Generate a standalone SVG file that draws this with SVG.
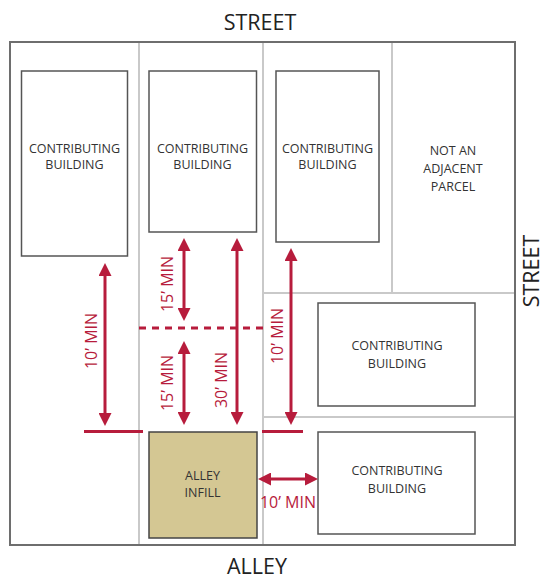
<svg xmlns="http://www.w3.org/2000/svg" width="544" height="580" viewBox="0 0 544 580">
<style>
.lot{stroke:#c9c9c9;stroke-width:2;fill:none}
.bldg{fill:#fff;stroke:#555;stroke-width:1.5}
.lbl{font-family:"Open Sans","Liberation Sans",sans-serif;font-size:12.5px;fill:#333;text-anchor:middle}
.big{font-family:"Open Sans","Liberation Sans",sans-serif;font-size:21.5px;fill:#222;text-anchor:middle}
.dim{stroke:#b71c3c;stroke-width:3;fill:none}
.dimt{font-family:"Open Sans","Liberation Sans",sans-serif;font-size:16px;fill:#b71c3c;text-anchor:middle}
</style>
<defs>
<marker id="ah" markerUnits="userSpaceOnUse" markerWidth="13" markerHeight="13" refX="0" refY="6.5" orient="auto-start-reverse" viewBox="0 0 13 13">
<path d="M0,0 L13,6.5 L0,13 z" fill="#b71c3c"/>
</marker>
</defs>
<rect width="544" height="580" fill="#fff"/>
<g id="lots">
<line class="lot" x1="139" y1="42" x2="139" y2="545"/>
<line class="lot" x1="263" y1="42" x2="263" y2="545"/>
<line class="lot" x1="392" y1="42" x2="392" y2="293"/>
<line class="lot" x1="263" y1="293" x2="515" y2="293"/>
<line class="lot" x1="263" y1="417" x2="515" y2="417"/>
<rect x="10" y="42" width="505" height="503" fill="none" stroke="#6e6e6e" stroke-width="2"/>
</g>
<text class="big" x="260" y="30">STREET</text>
<text class="big" x="257" y="574">ALLEY</text>
<text class="big" transform="translate(539,271) rotate(-90)">STREET</text>
<g id="b1"><rect class="bldg" x="21.5" y="71" width="106" height="185"/>
<text class="lbl" x="74.5" y="153">CONTRIBUTING</text><text class="lbl" x="74.5" y="169">BUILDING</text></g>
<g id="b2"><rect class="bldg" x="149" y="71" width="107.5" height="161"/>
<text class="lbl" x="202.5" y="153">CONTRIBUTING</text><text class="lbl" x="202.5" y="169">BUILDING</text></g>
<g id="b3"><rect class="bldg" x="276" y="71" width="103" height="171"/>
<text class="lbl" x="327.5" y="153">CONTRIBUTING</text><text class="lbl" x="327.5" y="169">BUILDING</text></g>
<g id="notadj"><text class="lbl" x="453" y="155">NOT AN</text><text class="lbl" x="453" y="173">ADJACENT</text><text class="lbl" x="453" y="191">PARCEL</text></g>
<g id="b4"><rect class="bldg" x="318" y="303" width="157" height="103"/>
<text class="lbl" x="397" y="350">CONTRIBUTING</text><text class="lbl" x="397" y="368">BUILDING</text></g>
<g id="b5"><rect class="bldg" x="318" y="432" width="157" height="102"/>
<text class="lbl" x="397" y="475">CONTRIBUTING</text><text class="lbl" x="397" y="493">BUILDING</text></g>
<g id="infill"><rect x="149" y="432" width="108" height="106" fill="#d4c793" stroke="#444" stroke-width="1.5"/>
<text class="lbl" x="202.5" y="480" fill="#222">ALLEY</text><text class="lbl" x="202.5" y="497">INFILL</text></g>
<g id="connectors">
<line class="dim" x1="139" y1="328" x2="263" y2="328" stroke-dasharray="7,6"/>
<line class="dim" x1="84" y1="431.5" x2="143" y2="431.5"/>
<line class="dim" x1="262" y1="431.5" x2="303" y2="431.5"/>
<line class="dim" x1="105" y1="276" x2="105" y2="413" marker-start="url(#ah)" marker-end="url(#ah)"/>
<line class="dim" x1="184" y1="251" x2="184" y2="308" marker-start="url(#ah)" marker-end="url(#ah)"/>
<line class="dim" x1="184" y1="354" x2="184" y2="412" marker-start="url(#ah)" marker-end="url(#ah)"/>
<line class="dim" x1="237" y1="251" x2="237" y2="412" marker-start="url(#ah)" marker-end="url(#ah)"/>
<line class="dim" x1="291" y1="261" x2="291" y2="412" marker-start="url(#ah)" marker-end="url(#ah)"/>
<line class="dim" x1="271" y1="479" x2="305" y2="479" marker-start="url(#ah)" marker-end="url(#ah)"/>
</g>
<g id="dimlabels">
<text class="dimt" transform="translate(97,341) rotate(-90)">10’ MIN</text>
<text class="dimt" transform="translate(173,284) rotate(-90)">15’ MIN</text>
<text class="dimt" transform="translate(173,383) rotate(-90)">15’ MIN</text>
<text class="dimt" transform="translate(227,380) rotate(-90)">30’ MIN</text>
<text class="dimt" transform="translate(283,336) rotate(-90)">10’ MIN</text>
<text class="dimt" x="288" y="508">10’ MIN</text>
</g>
</svg>
